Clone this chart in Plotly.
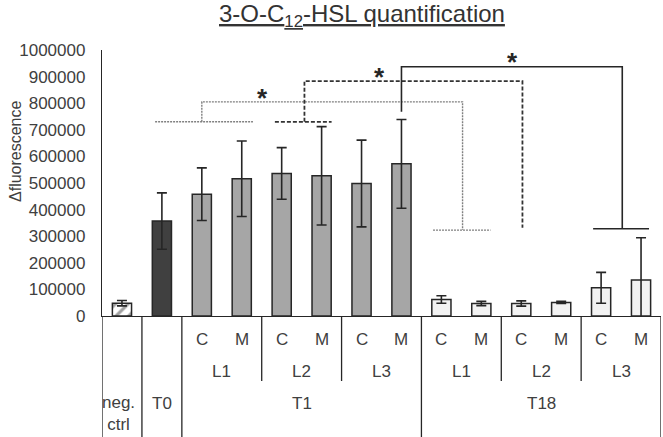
import plotly.graph_objects as go

# ---------------- data ----------------
cond_labels = ["", "", "C", "M", "C", "M", "C", "M", "C", "M", "C", "M", "C", "M"]
line_labels = ["L1", "L2", "L3", "L1", "L2", "L3"]
time_labels = ["T0", "T1", "T18"]
values = [48000, 357000, 458000, 516000, 536000, 527000, 498000, 572000,
          62000, 47000, 47000, 51000, 106000, 135000]
errors = [10000, 106000, 99000, 142000, 97000, 185000, 163000, 167000,
          14000, 8000, 10000, 4000, 58000, 159000]
groups = ["neg", "T0", "T1", "T1", "T1", "T1", "T1", "T1",
          "T18", "T18", "T18", "T18", "T18", "T18"]
y_ticks = [0, 100000, 200000, 300000, 400000, 500000, 600000, 700000, 800000, 900000, 1000000]

FONT = "Liberation Sans, Arial, sans-serif"
TXT = "#404040"
EDGE = "#262626"

x_idx = list(range(len(values)))

fig = go.Figure()
styles = {
    "neg": dict(color="white", pattern=dict(shape="/", fgcolor="#404040", bgcolor="white", size=9, solidity=0.35)),
    "T0": dict(color="#404040"),
    "T1": dict(color="#a6a6a6"),
    "T18": dict(color="#f2f2f2"),
}
for g, st in styles.items():
    xs = [i for i in x_idx if groups[i] == g]
    fig.add_trace(go.Bar(
        x=xs, y=[values[i] for i in xs], width=0.48,
        marker=dict(line=dict(color=EDGE, width=1.5), **st),
        error_y=dict(type="data", array=[errors[i] for i in xs], color=EDGE, thickness=1.6, width=5),
        showlegend=False, hoverinfo="skip",
    ))

# ---------------- significance brackets ----------------
brackets = [
    dict(x=[0.83, 3.28, None, 2.0, 2.0, 8.53, 8.53, None, 7.79, 9.23],
         y=[730000, 730000, None, 730000, 805000, 805000, 323000, None, 323000, 323000],
         color="#808080", width=1.4, dash="2px,1px", star=(3.53, 842000)),
    dict(x=[3.83, 5.25, None, 4.57, 4.57, 10.03, 10.03],
         y=[730000, 730000, None, 730000, 883000, 883000, 332000],
         color="#333333", width=1.8, dash="4px,2px", star=(6.44, 922000)),
    dict(x=[7.0, 7.0, 12.53, 12.53, None, 11.8, 13.2],
         y=[768000, 937000, 937000, 328000, None, 328000, 328000],
         color="#262626", width=1.6, dash="solid", star=(9.79, 977000)),
]
for b in brackets:
    fig.add_trace(go.Scatter(x=b["x"], y=b["y"], mode="lines", connectgaps=False,
                             line=dict(color=b["color"], width=b["width"], dash=b["dash"]),
                             showlegend=False, hoverinfo="skip"))
    fig.add_annotation(x=b["star"][0], y=b["star"][1], text="<b>*</b>", showarrow=False,
                       xanchor="center", yanchor="middle",
                       yshift=-6, font=dict(family=FONT, size=26, color="#262626"))

# ---------------- category table under the axis ----------------
def py(px):
    return (316 - px) / 266.0

shapes = []
full_bottom = py(437)
short_bottom = py(381)
for xv in [-0.5, 0.5, 1.5, 7.5, 13.5]:
    shapes.append(dict(type="line", xref="x", yref="paper", x0=xv, x1=xv, y0=0, y1=full_bottom,
                       line=dict(color=EDGE, width=1.3)))
for xv in [3.5, 5.5, 9.5, 11.5]:
    shapes.append(dict(type="line", xref="x", yref="paper", x0=xv, x1=xv, y0=0, y1=short_bottom,
                       line=dict(color=EDGE, width=1.3)))
fig.update_layout(shapes=shapes)

def label(x, y, text, xshift=0):
    fig.add_annotation(x=x, y=y, xref="x", yref="paper", text=text, showarrow=False,
                       xanchor="center", yanchor="middle", xshift=xshift,
                       font=dict(family=FONT, size=17, color=TXT))

for i, lab in enumerate(cond_labels):
    if lab:
        label(i, py(339), lab)
for k, lab in enumerate(line_labels):
    label(2.5 + 2 * k, py(371), lab)
for xv, lab in zip([1, 4.5, 10.5], time_labels):
    label(xv, py(403), lab)
label(0, py(413), "neg.<br>ctrl", xshift=-3)

# title and axis label
fig.add_annotation(x=(362 - 102) / 559, y=py(16), xref="paper", yref="paper",
                   xanchor="center", yanchor="middle",
                   text="<u>3-O-C<sub>12</sub>-HSL quantification</u>", showarrow=False,
                   font=dict(family=FONT, size=24, color="#333333"))
fig.add_annotation(x=(15 - 102) / 559, y=py(151), xref="paper", yref="paper",
                   xanchor="center", yanchor="middle",
                   text="Δfluorescence", textangle=-90, showarrow=False,
                   font=dict(family=FONT, size=16, color=TXT))

fig.update_layout(
    width=663, height=437,
    margin=dict(l=102, r=2, t=50, b=121),
    paper_bgcolor="white", plot_bgcolor="white",
    barmode="overlay",
    font=dict(family=FONT, color=TXT),
    xaxis=dict(range=[-0.5, 13.5], showticklabels=False, showgrid=False, zeroline=False,
               showline=True, linecolor=EDGE, linewidth=1.3, ticks=""),
    yaxis=dict(range=[0, 1000000], tickvals=y_ticks, tickformat="d", showgrid=False,
               zeroline=False, showline=True, linecolor=EDGE, linewidth=1.3, ticks="",
               ticklabelstandoff=12, tickfont=dict(family=FONT, size=17, color=TXT)),
)

fig.write_html("out.html", config={"displayModeBar": False},
               post_script="document.body.style.margin='0px';")
